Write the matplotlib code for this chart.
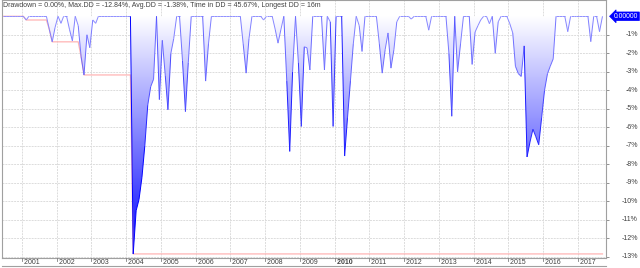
import numpy as np
import pandas as pd
import matplotlib
matplotlib.use("Agg")
import matplotlib.pyplot as plt
import matplotlib.dates as mdates
from matplotlib.collections import LineCollection
from matplotlib.colors import LinearSegmentedColormap
from matplotlib.lines import Line2D
import matplotlib.transforms as mtransforms

plt.rcParams['font.family'] = ['Liberation Sans', 'DejaVu Sans']

# monthly drawdown in %, Jun 2000 .. Sep 2017
drawdown = [
    0, 0, 0, 0, 0, 0, 0, 0, -0.2, 0,
    0, 0, 0, 0, 0, 0, -0.7, -1.38, -0.6, 0,
    -0.38, 0, 0, -0.7, -1.33, 0, -0.5, -2.2, -3.17, -1.0,
    -1.7, -0.2, -0.38, 0, 0, 0, 0, 0, 0, 0,
    0, 0, 0, 0, 0, -12.84, -10.5, -9.9, -8.7, -7.0,
    -4.8, -3.8, -3.4, 0, -4.5, -1.3, -3.2, -5.05, -2.0, -1.2,
    0, 0, -2.4, -5.15, -2.5, 0, 0, 0, 0, 0,
    -3.5, -1.5, 0, 0, 0, 0, 0, 0, 0, 0,
    0, 0, 0, -1.5, -3.07, -1.2, 0, 0, 0, 0,
    -0.2, 0, 0, 0, -0.7, -1.45, -0.7, 0, -3.5, -7.3,
    -3.0, 0, -2.5, -5.95, -1.65, -1.7, -2.9, 0, 0, 0,
    0, -2.9, 0, -0.3, -5.95, 0, 0, 0, -7.55, -5.5,
    -3.5, -1.5, 0, -0.5, -1.9, 0, 0, 0, 0, 0,
    -1.5, -3.07, -1.8, -0.9, -2.8, -1.8, -0.3, 0, 0, 0,
    0, -0.15, 0, 0, 0, 0, 0, -0.75, 0, 0,
    0, 0, 0, 0, -2.0, -5.4, 0, -3.0, -1.5, 0,
    0, 0, -2.6, -0.85, -0.5, -0.2, 0, 0, -0.4, 0,
    -2.0, -0.3, 0, 0, 0, -0.4, -0.9, -2.7, -3.1, -3.25,
    -1.6, -7.6, -6.8, -6.1, -6.5, -6.94, -5.5, -4.0, -3.1, -2.7,
    -2.3, 0, 0, 0, 0, -0.83, 0, 0, 0, 0,
    0, 0, 0, -1.37, 0, 0, -0.83, 0,
]
years = list(range(2001, 2018))
y_ticks = list(range(-1, -14, -1))
title = ("Drawdown = 0.00%, Max.DD = -12.84%, Avg.DD = -1.38%, "
         "Time in DD = 45.67%, Longest DD = 16m")

dates = pd.date_range("2000-06-01", periods=len(drawdown), freq="MS") + pd.Timedelta(days=14)
xs = mdates.date2num(dates)
dd = np.array(drawdown, dtype=float)
maxdd = np.minimum.accumulate(dd)

W, H = 640, 268
fig = plt.figure(figsize=(W / 100, H / 100), dpi=100)
ax = fig.add_axes([1.7 / W, 10 / H, (606 - 1.7) / W, 258 / H])

x0 = mdates.date2num(pd.Timestamp("2000-06-02"))
x1 = mdates.date2num(pd.Timestamp("2017-10-22"))
ax.set_xlim(x0, x1)
ax.set_ylim(-13.06, 0.88)

grid_c = '#dcdcdc'
for v in y_ticks:
    ax.axhline(v, color=grid_c, lw=0.7, ls=(0, (2, 1)), zorder=0)
for yr in years:
    ax.axvline(mdates.date2num(pd.Timestamp(f"{yr}-01-01")), color=grid_c,
               lw=0.7, ls=(0, (2, 1)), zorder=0)

# gradient fill under the drawdown curve
fill_cmap = LinearSegmentedColormap.from_list(
    "f", [(0, "#ffffff"), (0.35, "#a8a8ff"), (0.6, "#6a6aff"), (1, "#0000ff")])
poly = ax.fill_between(xs, dd, 0, color='none', lw=0)
grad = np.linspace(0, 1, 256).reshape(-1, 1)
im = ax.imshow(grad, extent=[xs[0], xs[-1], -12.84, 0], origin='upper',
               cmap=fill_cmap, aspect='auto', zorder=1)
im.set_clip_path(poly.get_paths()[0], transform=ax.transData)

ax.plot(xs, maxdd, color='#ffb4b4', lw=0.9, zorder=2)

line_cmap = LinearSegmentedColormap.from_list(
    "l", [(0, "#9090ff"), (0.4, "#6464ff"), (1, "#0000ff")])
pts = np.column_stack([xs, dd])
segs = np.stack([pts[:-1], pts[1:]], axis=1)
depth = np.minimum(dd[:-1], dd[1:])
lc = LineCollection(segs, cmap=line_cmap, linewidths=0.7, zorder=3)
lc.set_array(np.clip(-depth / 9.0, 0, 1))
lc.set_clim(0, 1)
ax.add_collection(lc)

for s in ax.spines.values():
    s.set_color('#a0a0a0')
    s.set_linewidth(0.8)
ax.set_xticks([])
ax.yaxis.tick_right()
ax.set_yticks(y_ticks)
ax.set_yticklabels([])
ax.tick_params(axis='y', length=2.5, color='#808080', width=0.6)

txt_c = '#404040'
trans_y = mtransforms.blended_transform_factory(fig.transFigure, ax.transData)
for v in y_ticks:
    ax.text(638 / W, v, f"{v}%", transform=trans_y, ha='right', va='center',
            fontsize=5.0, color=txt_c)
ax.text(638.5 / W, 0, "0.00000", transform=trans_y, ha='right', va='center',
        fontsize=4.9, color='white', zorder=5, clip_on=False,
        bbox=dict(boxstyle='larrow,pad=0.12', fc='#0000ff', ec='#0000ff', lw=0.5))

# year labels below the plot
trans_x = mtransforms.blended_transform_factory(ax.transData, fig.transFigure)
for yr in years:
    xv = mdates.date2num(pd.Timestamp(f"{yr}-01-01"))
    fig.add_artist(Line2D([xv, xv], [1 - 258 / H, 1 - 261 / H], transform=trans_x,
                          color='#808080', lw=0.6))
    ax.text(xv, 1 - 262.3 / H, f" {yr}", transform=trans_x, ha='left', va='center',
            fontsize=5.0, color=txt_c,
            fontweight='bold' if yr == 2010 else 'normal')
fig.add_artist(Line2D([1.7 / W, 606 / W], [1 - 266 / H, 1 - 266 / H],
                      color='#a0a0a0', lw=0.8))

fig.text(3 / W, 1 - 5.5 / H, title, ha='left', va='center', fontsize=5.0,
         color=txt_c)

fig.savefig("out.png", dpi=100)
